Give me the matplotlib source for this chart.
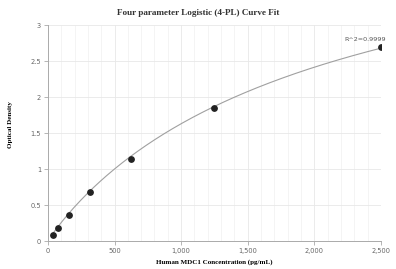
import numpy as np
import matplotlib
matplotlib.use("Agg")
import matplotlib.pyplot as plt
from matplotlib.ticker import FuncFormatter, MultipleLocator

conc = [39.06, 78.125, 156.25, 312.5, 625, 1250, 2500]
od = [0.09, 0.18, 0.36, 0.68, 1.14, 1.85, 2.69]
# 4PL parameters (A, B, C, D)
A, B, C, D = 0.0, 0.95, 2150.0, 5.0
r2_label = "R^2=0.9999"

fig = plt.figure(figsize=(3.96, 2.69), dpi=100)
ax = fig.add_axes([0.121, 0.104, 0.841, 0.803])

xs = np.linspace(min(conc), max(conc), 300)
ys = D + (A - D) / (1 + (xs / C) ** B)
ax.plot(xs, ys, color="#a0a0a0", lw=0.8, zorder=2)
ax.scatter(conc, od, s=15, color="#222222", zorder=3)

ax.set_xlim(0, 2500)
ax.set_ylim(0, 3)
ax.xaxis.set_major_locator(MultipleLocator(500))
ax.xaxis.set_minor_locator(MultipleLocator(100))
ax.yaxis.set_major_locator(MultipleLocator(0.5))
ax.xaxis.set_major_formatter(FuncFormatter(lambda v, p: f"{int(v):,}"))
ax.yaxis.set_major_formatter(FuncFormatter(lambda v, p: f"{v:g}"))
ax.grid(True, which="major", color="#e8e8e8", lw=0.6)
ax.grid(True, which="minor", axis="x", color="#f0f0f0", lw=0.5)
ax.set_axisbelow(True)
for s in ["top", "right"]:
    ax.spines[s].set_visible(False)
for s in ["left", "bottom"]:
    ax.spines[s].set_color("#aaaaaa")
    ax.spines[s].set_linewidth(0.7)
ax.tick_params(which="major", length=3, width=0.6, color="#aaaaaa", labelsize=4.8, labelcolor="#666666", pad=2)
ax.tick_params(which="minor", length=0)

ax.annotate(r2_label, (conc[-1], od[-1]), xytext=(-11, 4), textcoords="offset points",
            ha="center", va="bottom", fontsize=4.6, color="#555555", annotation_clip=False)

ax.set_xlabel("Human MDC1 Concentration (pg/mL)", fontsize=5.0, fontweight="bold",
              family="Liberation Serif", labelpad=4)
ax.set_ylabel("Optical Density", fontsize=5.0, fontweight="bold", family="Liberation Serif", labelpad=14)
ax.yaxis.set_label_coords(-0.105, 0.54)
fig.suptitle("Four parameter Logistic (4-PL) Curve Fit", y=0.965, fontsize=6.6, fontweight="bold",
             family="Liberation Serif", color="#333333")

fig.savefig("out.png", dpi=100)
